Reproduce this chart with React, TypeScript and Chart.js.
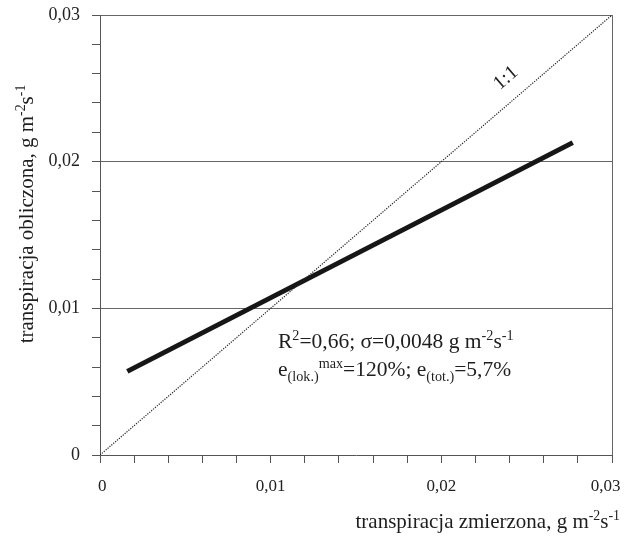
import React, { useEffect, useRef } from "react";
import { Chart, registerables } from "chart.js";

Chart.register(...registerables);

// 1:1 reference line
const diagX = [0, 0.03];
const diagY = [0, 0.03];
// fitted regression line (computed vs measured)
const fitX = [0.0016, 0.0277];
const fitY = [0.0057, 0.0213];

const axisMin = 0;
const axisMax = 0.03;
const tickStep = 0.002;
const labelStep = 0.01;

const FONT = "'Liberation Serif', 'Times New Roman', serif";

type Seg = [string, "n" | "sup" | "sub"];

const xTitle: Seg[] = [["transpiracja zmierzona, g m", "n"], ["-2", "sup"], ["s", "n"], ["-1", "sup"]];
const yTitle: Seg[] = [["transpiracja obliczona, g m", "n"], ["-2", "sup"], ["s", "n"], ["-1", "sup"]];
const ann1: Seg[] = [["R", "n"], ["2", "sup"], ["=0,66; σ=0,0048 g m", "n"], ["-2", "sup"], ["s", "n"], ["-1", "sup"]];
const ann2: Seg[] = [["e", "n"], ["(lok.)", "sub"], ["max", "sup"], ["=120%; e", "n"], ["(tot.)", "sub"], ["=5,7%", "n"]];
const diagLabel = "1:1";

function isMult(v: number, step: number) {
  const r = v / step;
  return Math.abs(r - Math.round(r)) < 1e-6;
}

function fmt(v: number) {
  if (Math.abs(v) < 1e-9) return "0";
  return v.toFixed(2).replace(".", ",");
}

function segFont(size: number, mode: string) {
  const s = mode === "n" ? size : size * 0.66;
  return `${s}px ${FONT}`;
}

function richWidth(ctx: CanvasRenderingContext2D, segs: Seg[], size: number) {
  let w = 0;
  for (const [t, m] of segs) {
    ctx.font = segFont(size, m);
    w += ctx.measureText(t).width;
  }
  return w;
}

function drawRich(ctx: CanvasRenderingContext2D, segs: Seg[], x: number, y: number, size: number) {
  let cx = x;
  ctx.textBaseline = "alphabetic";
  ctx.textAlign = "left";
  for (const [t, m] of segs) {
    ctx.font = segFont(size, m);
    const dy = m === "sup" ? -size * 0.38 : m === "sub" ? size * 0.22 : 0;
    ctx.fillText(t, cx, y + dy);
    cx += ctx.measureText(t).width;
  }
}

const textPlugin = {
  id: "richText",
  afterDraw(chart: any) {
    const ctx: CanvasRenderingContext2D = chart.ctx;
    const a = chart.chartArea;
    const xs = chart.scales.x;
    const ys = chart.scales.y;
    ctx.save();
    ctx.fillStyle = "#1e1e1e";
    // x title, right aligned near plot edge
    const ts = 21;
    const wx = richWidth(ctx, xTitle, ts);
    drawRich(ctx, xTitle, a.right + 8 - wx, a.bottom + 73, ts);
    // y title rotated
    const wy = richWidth(ctx, yTitle, ts);
    ctx.save();
    ctx.translate(a.left - 67, a.top + 199);
    ctx.rotate(-Math.PI / 2);
    drawRich(ctx, yTitle, -wy / 2, 0, ts);
    ctx.restore();
    // annotation
    drawRich(ctx, ann1, a.left + 178, a.top + 333, 21.5);
    drawRich(ctx, ann2, a.left + 178, a.top + 361, 21.5);
    // 1:1 label along diagonal
    const p0x = xs.getPixelForValue(diagX[0]);
    const p0y = ys.getPixelForValue(diagY[0]);
    const p1x = xs.getPixelForValue(diagX[1]);
    const p1y = ys.getPixelForValue(diagY[1]);
    const ang = Math.atan2(p1y - p0y, p1x - p0x);
    const v = 0.0246;
    const lx = xs.getPixelForValue(v);
    const ly = ys.getPixelForValue(v);
    ctx.translate(lx, ly);
    ctx.rotate(ang);
    ctx.font = `20px ${FONT}`;
    ctx.textAlign = "center";
    ctx.textBaseline = "alphabetic";
    ctx.fillText(diagLabel, 0, -16);
    ctx.restore();
  },
};

function zeroPad(s: any) {
  s.paddingLeft = 0;
  s.paddingRight = 0;
  s.paddingTop = 0;
  s.paddingBottom = 0;
}

export default function App() {
  const ref = useRef<HTMLCanvasElement>(null);
  useEffect(() => {
    const canvas = ref.current!;
    const chart = new Chart(canvas, {
      type: "scatter",
      data: {
        datasets: [
          {
            label: "1:1",
            data: diagX.map((x, i) => ({ x, y: diagY[i] })),
            showLine: true,
            borderColor: "#222",
            borderWidth: 1.2,
            borderDash: [1.2, 1.3],
            pointRadius: 0,
          },
          {
            label: "fit",
            data: fitX.map((x, i) => ({ x, y: fitY[i] })),
            showLine: true,
            borderColor: "#161616",
            borderWidth: 5,
            pointRadius: 0,
          },
        ],
      },
      options: {
        responsive: false,
        animation: false,
        layout: { padding: { top: 15, right: 12, left: 0, bottom: 0 } },
        plugins: { legend: { display: false }, tooltip: { enabled: false } },
        scales: {
          x: {
            type: "linear",
            min: axisMin,
            max: axisMax,
            afterFit: (s: any) => {
              s.height = 83;
              zeroPad(s);
            },
            border: { color: "#555", width: 1 },
            grid: {
              color: (c: any) => (c.tick && Math.abs(c.tick.value - axisMax) < 1e-9 ? "#666" : "rgba(0,0,0,0)"),
              tickColor: "#555",
              tickLength: 8,
              lineWidth: 1,
            },
            ticks: {
              stepSize: tickStep,
              autoSkip: false,
              maxRotation: 0,
              padding: 13,
              color: "#222",
              font: { family: FONT, size: 17 },
              callback: (v: any) => {
                const n = Number(v);
                if (!isMult(n, labelStep)) return "";
                if (Math.abs(n - axisMax) < 1e-9) return fmt(n) + "   ";
                if (Math.abs(n - axisMin) < 1e-9) return " " + fmt(n);
                return fmt(n);
              },
            },
          },
          y: {
            type: "linear",
            min: axisMin,
            max: axisMax,
            afterFit: (s: any) => {
              s.width = 100;
              zeroPad(s);
            },
            border: { color: "#555", width: 1 },
            grid: {
              color: (c: any) =>
                c.tick && c.tick.value > 1e-9 && isMult(c.tick.value, labelStep) ? "#666" : "rgba(0,0,0,0)",
              tickColor: "#555",
              tickLength: 8,
              lineWidth: 1,
            },
            ticks: {
              stepSize: tickStep,
              autoSkip: false,
              padding: 12,
              color: "#222",
              font: { family: FONT, size: 18 },
              callback: (v: any) => (isMult(Number(v), labelStep) ? fmt(Number(v)) : ""),
            },
          },
        },
      },
      plugins: [textPlugin],
    });
    return () => chart.destroy();
  }, []);
  return (
    <canvas
      ref={ref}
      width={624}
      height={538}
      style={{ position: "absolute", left: 0, top: 0, width: 624, height: 538, background: "#fff" }}
    />
  );
}
